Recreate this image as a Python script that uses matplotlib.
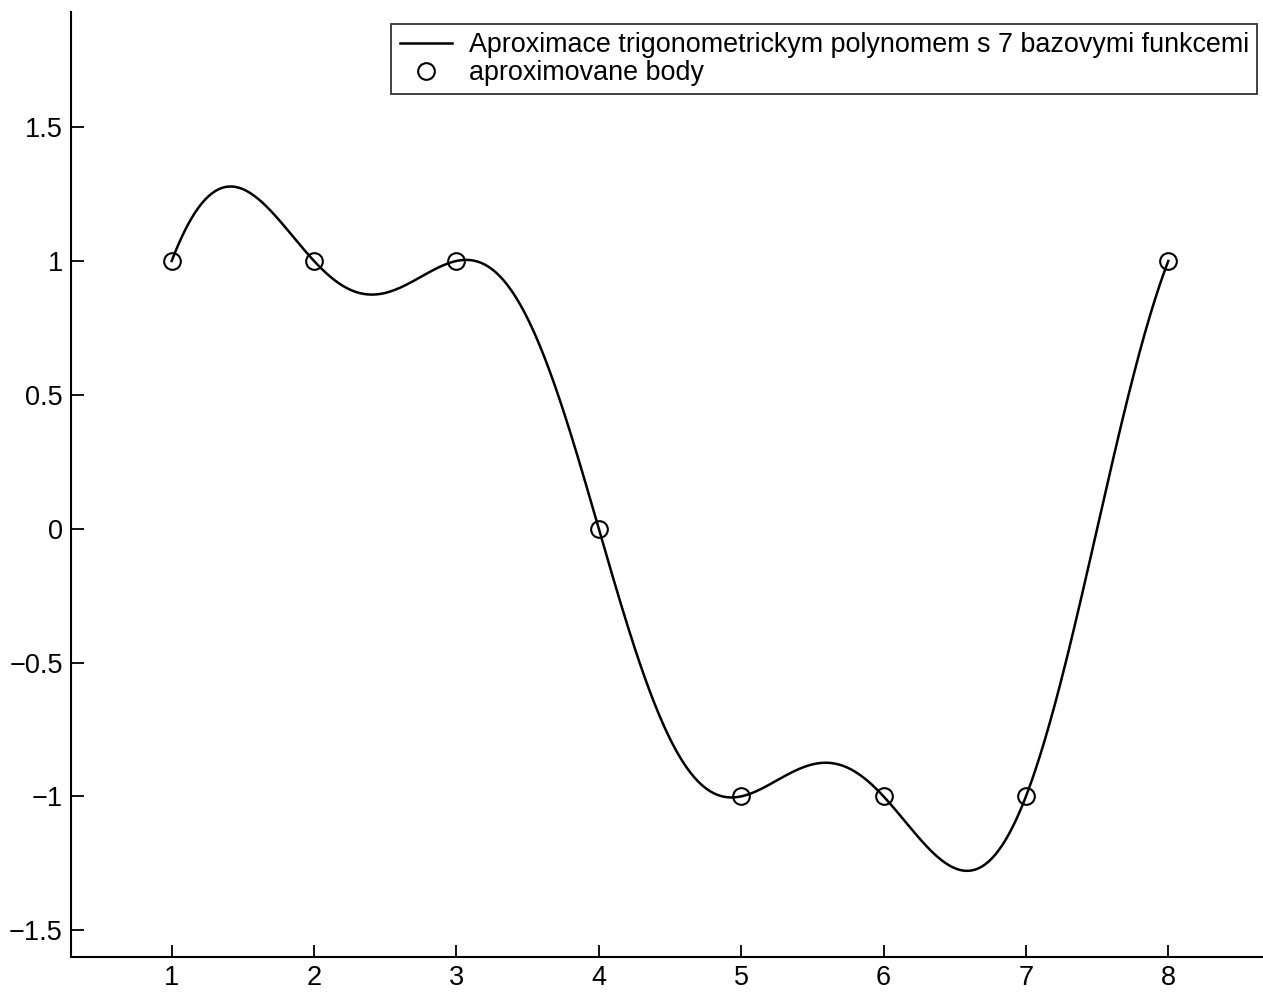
import numpy as np
import matplotlib
matplotlib.use("Agg")
import matplotlib.pyplot as plt

# approximated points (the last one repeats the first period)
x_points = [1, 2, 3, 4, 5, 6, 7, 8]
y_points = [1, 1, 1, 0, -1, -1, -1, 1]
n_basis = 7
period = 7

x_ticks = [1, 2, 3, 4, 5, 6, 7, 8]
y_ticks = [-1.5, -1, -0.5, 0, 0.5, 1, 1.5]


def trig_basis(x, n, T):
    # 1, cos(kwx), sin(kwx), ... up to n functions
    x = np.asarray(x, dtype=float) - x_points[0]
    w = 2 * np.pi / T
    cols = [np.ones_like(x)]
    k = 1
    while len(cols) < n:
        cols.append(np.cos(k * w * x))
        if len(cols) < n:
            cols.append(np.sin(k * w * x))
        k += 1
    return np.column_stack(cols)


# least squares fit of the points
A = trig_basis(x_points, n_basis, period)
coef, *_ = np.linalg.lstsq(A, np.asarray(y_points, dtype=float), rcond=None)
xx = np.linspace(x_points[0], x_points[-1], 600)
yy = trig_basis(xx, n_basis, period) @ coef

plt.rcParams['font.family'] = ['Liberation Sans', 'DejaVu Sans']

fig = plt.figure(figsize=(12.63, 10), dpi=100)
ax = fig.add_axes([71 / 1263, 43 / 1000, 1 - 71 / 1263, 945 / 1000])

ax.plot(xx, yy, color='black', linewidth=1.8,
        label='Aproximace trigonometrickym polynomem s 7 bazovymi funkcemi')
ax.plot(x_points, y_points, 'o', markersize=12, markerfacecolor='none',
        markeredgecolor='black', markeredgewidth=1.5, label='aproximovane body')

ax.set_xlim(0.293, 8.665)
ax.set_ylim(-1.6, 1.93)
ax.set_xticks(x_ticks)
ax.set_yticks(y_ticks)
ax.set_yticklabels(['\u22121.5', '\u22121', '\u22120.5', '0', '0.5', '1', '1.5'])

for side in ['top', 'right']:
    ax.spines[side].set_visible(False)
for side in ['left', 'bottom']:
    ax.spines[side].set_linewidth(1.5)
ax.tick_params(direction='in', length=9, width=1.3, labelsize=19.5, pad=6, colors='black')

leg = ax.legend(loc='upper right', bbox_to_anchor=(1257 / 1263, 1 - 24 / 1000),
                bbox_transform=fig.transFigure, borderaxespad=0, fontsize=19.4,
                frameon=True, fancybox=False, labelspacing=0.08, handlelength=1.95,
                handletextpad=0.62, borderpad=0.3)
leg.get_frame().set_edgecolor('black')
leg.get_frame().set_linewidth(1.3)

fig.savefig('out.png', dpi=100)
